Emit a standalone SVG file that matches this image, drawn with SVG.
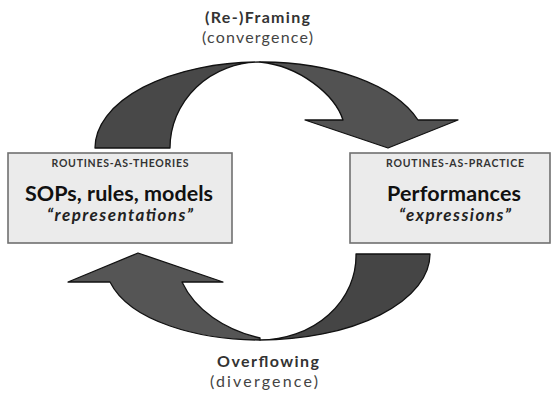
<svg xmlns="http://www.w3.org/2000/svg" width="552" height="394" viewBox="0 0 552 394">
<defs>
<style>
.lbl{font-family:Lato,"Open Sans","Liberation Sans",sans-serif;text-anchor:middle;}
.b{font-weight:bold;}
.cap{font-size:10.5px;fill:#333;font-weight:bold;}
.main{font-size:21.5px;fill:#111;font-weight:bold;}
.it{font-size:17px;fill:#222;font-weight:bold;font-style:italic;}
.flow{font-size:16px;}
.box{fill:#ebebeb;stroke:#707070;stroke-width:1.6;}
.arr{stroke:#111;stroke-width:1.3;stroke-linejoin:round;}
</style>
</defs>
<rect width="552" height="394" fill="#fff"/>
<g id="connectors">
  <g id="reframing-arrow">
    <path class="arr" fill="#484848" d="M95,148 A165,86 0 0,1 260,62 A90,86 0 0,0 170,148 Z"/>
    <path class="arr" fill="#525252" d="M260,62 A165,86 0 0,1 418,120 L458,120 L388,148 L305,120 L343,120 C335,95 300,66 260,62 Z"/>
  </g>
  <g id="overflowing-arrow">
    <path class="arr" fill="#454545" d="M356,254 L430,254 A170,86 0 0,1 260,340 A96,84 0 0,0 356,254 Z"/>
    <path class="arr" fill="#555555" d="M260,340 C200,340 130,322 110,282 L68,282 L138,253 L223,282 L182,282 C195,310 225,330 260,338 Z"/>
  </g>
</g>
<g id="label-reframing">
  <text class="lbl b flow" x="257.5" y="23" fill="#333" textLength="105">(Re-)Framing</text>
  <text class="lbl flow" x="257.5" y="43" fill="#444" textLength="111">(convergence)</text>
</g>
<g id="label-overflowing">
  <text class="lbl b flow" x="268" y="367" fill="#333" textLength="102">Overflowing</text>
  <text class="lbl flow" x="264" y="387" fill="#444" textLength="108">(divergence)</text>
</g>
<g id="node-theories">
  <rect class="box" x="8" y="153" width="224" height="90"/>
  <text class="lbl cap" x="120" y="167" textLength="137">ROUTINES-AS-THEORIES</text>
  <text class="lbl main" x="119" y="201" textLength="188">SOPs, rules, models</text>
  <text class="lbl it" x="120" y="221" textLength="146">“representations”</text>
</g>
<g id="node-practice">
  <rect class="box" x="350" y="153" width="200" height="90"/>
  <text class="lbl cap" x="455" y="167" textLength="138">ROUTINES-AS-PRACTICE</text>
  <text class="lbl main" x="454" y="201" textLength="134">Performances</text>
  <text class="lbl it" x="455" y="221" textLength="112">“expressions”</text>
</g>
</svg>
